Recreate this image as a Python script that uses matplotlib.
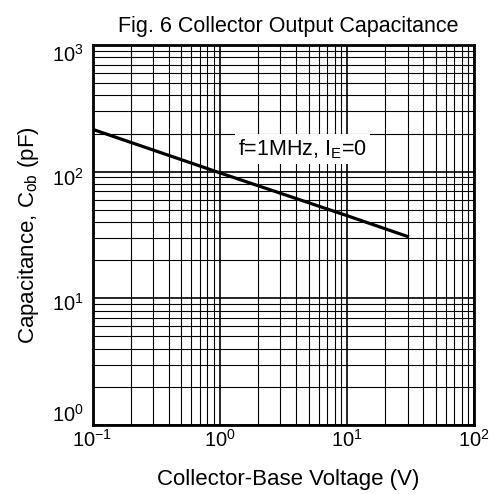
import matplotlib
import matplotlib.pyplot as plt
import matplotlib.transforms as mtransforms
import numpy as np
from matplotlib.ticker import LogLocator, NullFormatter

matplotlib.use("Agg")

plt.rcParams["font.family"] = ["Liberation Sans", "DejaVu Sans"]
plt.rcParams["mathtext.fontset"] = "custom"
plt.rcParams["mathtext.rm"] = "Liberation Sans"
plt.rcParams["mathtext.it"] = "Liberation Sans"

# data
voltage = [0.1, 1.0, 10.0, 30.0]
capacitance = [216, 98, 45, 30.8]

x_ticks = [0.1, 1, 10, 100]
x_labels = ["$10^{-1}$", "$10^{0}$", "$10^{1}$", "$10^{2}$"]
y_ticks = [1, 10, 100, 1000]
y_labels = ["$10^{0}$", "$10^{1}$", "$10^{2}$", "$10^{3}$"]

fig = plt.figure(figsize=(4.95, 4.94), dpi=100)
ax = fig.add_axes([92.5 / 495, 1 - 425 / 494, 381.5 / 495, 380 / 494])

ax.set_xscale("log")
ax.set_yscale("log")
ax.set_xlim(0.1, 100)
ax.set_ylim(1, 1000)

ax.plot(voltage, capacitance, color="black", lw=2.3, zorder=4)

ax.set_xticks(x_ticks)
ax.set_xticklabels(x_labels)
ax.set_yticks(y_ticks)
ax.set_yticklabels(y_labels)
ax.xaxis.set_minor_locator(LogLocator(base=10, subs=np.arange(2, 10)))
ax.yaxis.set_minor_locator(LogLocator(base=10, subs=np.arange(2, 10)))
ax.xaxis.set_minor_formatter(NullFormatter())
ax.yaxis.set_minor_formatter(NullFormatter())
ax.tick_params(which="both", length=0, labelsize=14.5)
ax.tick_params(axis="x", pad=3)
ax.tick_params(axis="y", pad=6)

# the original sits its y labels a little off the grid lines
y_shift_px = [12, -4, -5, -8]
for lab, dy in zip(ax.get_yticklabels(), y_shift_px):
    lab.set_transform(lab.get_transform() +
                      mtransforms.ScaledTranslation(0, dy / 100, fig.dpi_scale_trans))

ax.grid(which="major", color="black", lw=1.2)
ax.grid(which="minor", color="black", lw=0.8)
ax.set_axisbelow(True)
for s in ax.spines.values():
    s.set_linewidth(2)

ax.text(1.40, 135, "f=1MHz, I$_\\mathregular{E}$=0", fontsize=15.5, ha="left", va="baseline",
        zorder=3, bbox=dict(facecolor="white", edgecolor="none", pad=2))

ax.set_title("Fig. 6 Collector Output Capacitance", fontsize=15.5, pad=9, x=0.512)
ax.set_xlabel("Collector-Base Voltage (V)", fontsize=16, labelpad=13, x=0.513)
ax.set_ylabel("Capacitance, C$_\\mathregular{ob}$ (pF)", fontsize=16, labelpad=8)

fig.savefig("out.png", dpi=100)
